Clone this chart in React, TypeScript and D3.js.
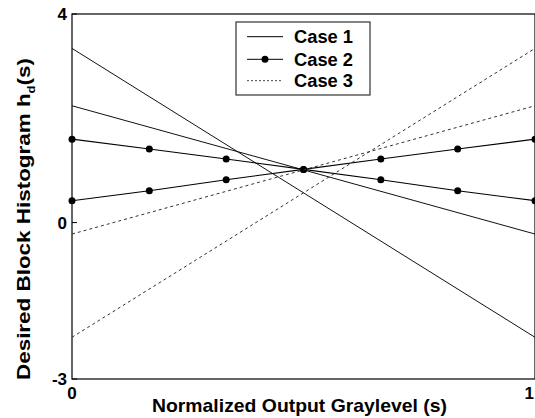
import React from "react"
import * as d3 from "d3"

// x positions (normalized graylevel) where Case 2 has markers
const xPoints = [0, 0.167, 0.333, 0.5, 0.667, 0.833, 1]
const xEnds = [0, 1]

// Case 1: two solid lines
const case1a = [3.34, -2.2]
const case1b = [2.24, -0.22]
// Case 2: solid with markers
const case2a = [1.6, 1.41, 1.22, 1.02, 0.82, 0.61, 0.42]
const case2b = [0.42, 0.61, 0.82, 1.02, 1.22, 1.41, 1.6]
// Case 3: dashed
const case3a = [-0.22, 2.24]
const case3b = [-2.2, 3.34]

const yTicks = [4, 0, -3]
const xTicks = [0, 1]
const legendLabels = ["Case 1", "Case 2", "Case 3"]

const W = 535
const H = 418
const margin = { left: 72, top: 14, right: 0, bottom: 39 }
const font = "'Liberation Sans', Arial, Helvetica, sans-serif"

export default function App() {
  const x = d3.scaleLinear().domain([0, 1]).range([margin.left, W - margin.right])
  const y = d3.scaleLinear().domain([-3, 4]).range([H - margin.bottom, margin.top])

  const line = d3.line<[number, number]>().x(d => x(d[0])).y(d => y(d[1]))
  const pts = (xs: number[], ys: number[]) => xs.map((v, i) => [v, ys[i]] as [number, number])

  const solid = [pts(xEnds, case1a), pts(xEnds, case1b)]
  const dotted = [pts(xPoints, case2a), pts(xPoints, case2b)]
  const dashed = [pts(xEnds, case3a), pts(xEnds, case3b)]

  const legendRows = [36.7, 59.3, 80.7]

  return (
    <svg width={W} height={H} style={{ position: "absolute", left: 0, top: 0, background: "#fff" }}>
      {/* frame */}
      <rect x={x(0)} y={y(4)} width={x(1) - x(0)} height={y(-3) - y(4)} fill="none" stroke="#000" strokeWidth={1.2} />

      {/* y ticks */}
      {yTicks.map(t => (
        <g key={"y" + t}>
          <line x1={x(0)} x2={x(0) + 5} y1={y(t)} y2={y(t)} stroke="#000" />
          <text x={x(0) - 5} y={y(t) + 6} textAnchor="end" fontFamily={font} fontWeight="bold" fontSize={17}>{t}</text>
        </g>
      ))}
      {/* x ticks */}
      {xTicks.map(t => (
        <text key={"x" + t} x={t === 1 ? x(t) - 1 : x(t)} y={399} textAnchor={t === 1 ? "end" : "middle"}
          fontFamily={font} fontWeight="bold" fontSize={17}>{t}</text>
      ))}

      {/* series */}
      {solid.map((d, i) => (
        <path key={"s" + i} d={line(d) as string} fill="none" stroke="#111" strokeWidth={1} />
      ))}
      {dotted.map((d, i) => (
        <g key={"d" + i}>
          <path d={line(d) as string} fill="none" stroke="#000" strokeWidth={1.1} />
          {d.map((p, j) => (
            <circle key={j} cx={x(p[0])} cy={y(p[1])} r={3.5} fill="#000" />
          ))}
        </g>
      ))}
      {dashed.map((d, i) => (
        <path key={"c" + i} d={line(d) as string} fill="none" stroke="#333" strokeWidth={1} strokeDasharray="3,3" />
      ))}

      {/* legend */}
      <rect x={236} y={22} width={134} height={73} fill="#fff" stroke="#333" strokeWidth={1.2} />
      {legendLabels.map((lab, i) => (
        <g key={lab}>
          <line x1={247} x2={283} y1={legendRows[i]} y2={legendRows[i]}
            stroke={i === 2 ? "#444" : "#000"} strokeWidth={1}
            strokeDasharray={i === 2 ? "2,2" : undefined} />
          {i === 1 && <circle cx={265} cy={legendRows[i]} r={3.5} fill="#000" />}
          <text x={294} y={legendRows[i] + 6.6} fontFamily={font} fontWeight="bold" fontSize={18}
            textLength={59} lengthAdjust="spacingAndGlyphs">{lab}</text>
        </g>
      ))}

      {/* axis titles */}
      <text x={299.5} y={411.5} textAnchor="middle" fontFamily={font} fontWeight="bold" fontSize={19}
        textLength={295} lengthAdjust="spacingAndGlyphs">Normalized Output Graylevel (s)</text>
      <text transform="translate(30,219) rotate(-90)" textAnchor="middle" fontFamily={font} fontWeight="bold" fontSize={19}
        textLength={322} lengthAdjust="spacingAndGlyphs">
        Desired Block Histogram h<tspan fontSize={11} dy={5}>d</tspan><tspan dy={-5}>(s)</tspan>
      </text>
    </svg>
  )
}
